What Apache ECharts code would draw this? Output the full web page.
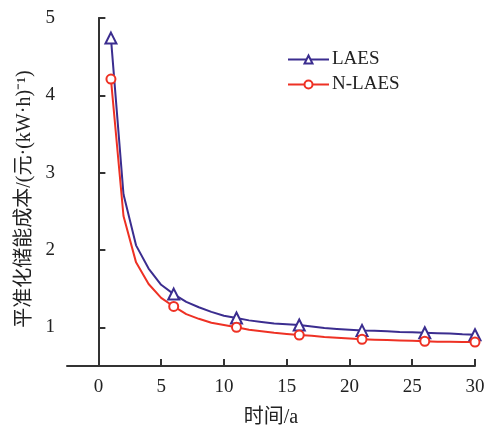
<!DOCTYPE html>
<html>
<head>
<meta charset="utf-8">
<script src="https://cdn.jsdelivr.net/npm/echarts@6/dist/echarts.min.js"></script>
<style>
  html, body { margin: 0; padding: 0; background: #fff; }
  #chart { width: 492px; height: 427px; }
</style>
</head>
<body>
<div id="chart"></div>
<script>
// 年份 1..30
const years = [1, 2, 3, 4, 5, 6, 7, 8, 9, 10, 11, 12, 13, 14, 15, 16, 17, 18, 19, 20, 21, 22, 23, 24, 25, 26, 27, 28, 29, 30]
const laes = [4.74, 2.72, 2.06, 1.76, 1.55, 1.43, 1.33, 1.26, 1.20, 1.15, 1.12, 1.09, 1.07, 1.05, 1.04, 1.03, 1.01, 0.99, 0.98, 0.97, 0.96, 0.955, 0.95, 0.94, 0.935, 0.93, 0.925, 0.92, 0.91, 0.905]
const nlaes = [4.21, 2.44, 1.84, 1.56, 1.38, 1.27, 1.17, 1.11, 1.06, 1.03, 1.00, 0.97, 0.95, 0.93, 0.915, 0.90, 0.89, 0.875, 0.865, 0.855, 0.845, 0.84, 0.835, 0.83, 0.825, 0.82, 0.815, 0.815, 0.81, 0.81]
// 带标记的年份
const markedYears = [1, 6, 11, 16, 21, 26, 30]
const xTicks = [0, 5, 10, 15, 20, 25, 30]
const yTicks = [1, 2, 3, 4, 5]

const font = '"Liberation Serif", "Noto Sans CJK SC", serif'
const axisColor = '#333'

function buildData (values) {
  return years.map((y, i) => ({
    value: [y, values[i]],
    symbol: markedYears.includes(y) ? undefined : 'none'
  }))
}

const chart = echarts.init(document.getElementById('chart'), null, { renderer: 'canvas' })
chart.setOption({
  backgroundColor: '#fff',
  animation: false,
  grid: {
    left: 67,
    right: 17,
    top: 18,
    bottom: 61,
    containLabel: false,
    outerBoundsMode: 'none'
  },
  legend: {
    orient: 'vertical',
    left: 282,
    top: 45,
    itemWidth: 41,
    itemHeight: 10,
    itemGap: 6,
    textStyle: { fontFamily: font, fontSize: 19, color: '#222', padding: [0, 0, 0, -2] },
    data: ['LAES', 'N-LAES']
  },
  xAxis: {
    type: 'value',
    min: -2.5,
    max: 30,
    name: '时间/a',
    nameLocation: 'middle',
    nameGap: 42,
    nameTextStyle: { fontFamily: font, fontSize: 20, color: '#222' },
    axisLine: { lineStyle: { color: axisColor, width: 2 } },
    axisTick: { inside: true, length: 7, lineStyle: { color: axisColor, width: 2 }, customValues: xTicks },
    axisLabel: { fontFamily: font, fontSize: 19, color: '#222', margin: 12, customValues: xTicks },
    splitLine: { show: false }
  },
  yAxis: {
    type: 'value',
    min: 0.5,
    max: 5,
    name: '平准化储能成本/(元·(kW·h)⁻¹)',
    nameLocation: 'middle',
    nameGap: 32,
    nameTextStyle: { fontFamily: font, fontSize: 20, color: '#222', padding: [0, 14, 0, 0] },
    axisLine: { lineStyle: { color: axisColor, width: 2 } },
    axisTick: { inside: true, length: 7, lineStyle: { color: axisColor, width: 2 }, customValues: yTicks },
    axisLabel: { fontFamily: font, fontSize: 19, color: '#222', margin: 12, customValues: yTicks },
    splitLine: { show: false }
  },
  series: [{
    name: 'LAES',
    type: 'line',
    data: buildData(laes),
    symbol: 'triangle',
    symbolSize: 11,
    lineStyle: { color: '#3b2d8f', width: 2 },
    itemStyle: { color: '#fff', borderColor: '#3b2d8f', borderWidth: 2 }
  }, {
    name: 'N-LAES',
    type: 'line',
    data: buildData(nlaes),
    symbol: 'circle',
    symbolSize: 9,
    lineStyle: { color: '#ee3124', width: 2 },
    itemStyle: { color: '#fff', borderColor: '#ee3124', borderWidth: 2 }
  }]
})
</script>
</body>
</html>
